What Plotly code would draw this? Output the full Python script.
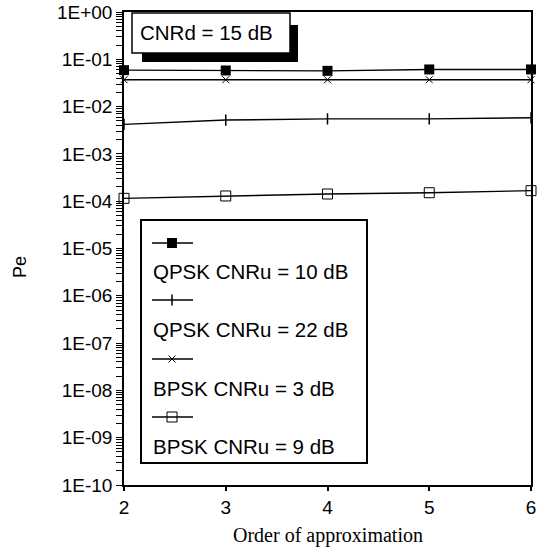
import plotly.graph_objects as go

# ---- data ----
orders = [2, 3, 4, 5, 6]
qpsk_10 = [0.059, 0.058, 0.057, 0.061, 0.061]
qpsk_22 = [0.0042, 0.0052, 0.0055, 0.0055, 0.0058]
bpsk_3 = [0.037, 0.037, 0.037, 0.037, 0.037]
bpsk_9 = [1.15e-4, 1.29e-4, 1.42e-4, 1.51e-4, 1.67e-4]

series_names = ["QPSK CNRu = 10 dB", "QPSK CNRu = 22 dB", "BPSK CNRu = 3 dB", "BPSK CNRu = 9 dB"]
series_values = [qpsk_10, qpsk_22, bpsk_3, bpsk_9]
ytick_major = [10 ** (-k) for k in range(0, 11)]
ytick_major_text = ["1E+00"] + ["1E-%02d" % k for k in range(1, 11)]
ytick_minor = [m * 10 ** (-k) for k in range(1, 11) for m in range(2, 10)]
xtick_vals = [2, 3, 4, 5, 6]

# all y ticks (major labelled, minor blank)
ytick_all = ytick_major + ytick_minor
ytick_all_text = ytick_major_text + [""] * len(ytick_minor)

# ---- styles ----
W, H = 544, 548
L, R, T, B = 124, 531, 12, 485
SANS = "Liberation Sans, Arial, sans-serif"
SERIF = "Liberation Serif, Times New Roman, serif"
markers = [
    dict(symbol="square", size=10, color="black"),
    dict(symbol="line-ns", size=8, color="black", line=dict(width=1.5, color="black")),
    dict(symbol="x-thin", size=7, color="black", line=dict(width=1, color="black")),
    dict(symbol="square-open", size=10, color="black", line=dict(width=1, color="black")),
]


def px(x):
    return (x - L) / (R - L)


def py(y):
    return (B - y) / (B - T)


fig = go.Figure()

for name, vals, mk in zip(series_names, series_values, markers):
    fig.add_trace(go.Scatter(x=orders, y=vals, name=name, mode="lines+markers",
                             line=dict(color="black", width=1.4), marker=mk,
                             showlegend=False, cliponaxis=False))

# thick stubs for the labelled decades (drawn just left of the y axis)
fig.add_trace(go.Scatter(x=[orders[0] - 4 * (orders[-1] - orders[0]) / (R - L)] * len(ytick_major),
                         y=ytick_major, mode="markers", cliponaxis=False, showlegend=False,
                         hoverinfo="skip",
                         marker=dict(symbol="line-ew", size=7, line=dict(width=4, color="black"))))

# ---- hand-drawn style legend on an inset axis (pixel units) ----
LG_L, LG_R, LG_T, LG_B = 142, 366, 221, 462
sym_rows = [243, 300, 359, 417]
txt_rows = [271, 329, 388, 446]
for name, mk, ys, yt in zip(series_names, markers, sym_rows, txt_rows):
    fig.add_trace(go.Scatter(x=[152, 193], y=[ys, ys], mode="lines", xaxis="x2", yaxis="y2",
                             line=dict(color="black", width=1.4), showlegend=False, hoverinfo="skip"))
    fig.add_trace(go.Scatter(x=[172], y=[ys], mode="markers", xaxis="x2", yaxis="y2",
                             marker=mk, showlegend=False, hoverinfo="skip"))
    fig.add_annotation(x=151, y=yt, xref="x2", yref="y2", text=name, showarrow=False,
                       xanchor="left", yanchor="middle",
                       font=dict(family=SANS, size=20.5, color="black"))

# ---- CNRd box with drop shadow ----
fig.add_shape(type="rect", xref="paper", yref="paper", x0=px(142), x1=px(298), y0=py(62), y1=py(25),
              fillcolor="black", line=dict(width=0), layer="above")
fig.add_shape(type="rect", xref="paper", yref="paper", x0=px(132), x1=px(290), y0=py(53), y1=py(13),
              fillcolor="white", line=dict(width=1.5, color="black"), layer="above")
fig.add_annotation(x=px(206), y=py(33), xref="paper", yref="paper", text="CNRd = 15 dB",
                   showarrow=False, xanchor="center", yanchor="middle",
                   font=dict(family=SANS, size=20.5, color="black"))

# ---- axis titles ----
fig.add_annotation(x=px(20), y=py(267), xref="paper", yref="paper", text="Pe", showarrow=False,
                   textangle=-90, xanchor="center", yanchor="middle",
                   font=dict(family=SANS, size=18, color="black"))
fig.add_annotation(x=px(328), y=py(535), xref="paper", yref="paper", text="Order of approximation",
                   showarrow=False, xanchor="center", yanchor="middle",
                   font=dict(family=SERIF, size=20, color="black"))

fig.update_layout(
    width=W, height=H,
    margin=dict(l=L, r=W - R, t=T, b=H - B),
    paper_bgcolor="white", plot_bgcolor="white",
    showlegend=False,
    xaxis=dict(range=[2, 6], tickvals=xtick_vals, ticks="outside", ticklen=4, tickwidth=1.5,
               tickcolor="black", showline=True, linecolor="black", linewidth=1.5, mirror=True,
               showgrid=False, zeroline=False, automargin=False,
               tickfont=dict(family=SANS, size=19, color="black")),
    yaxis=dict(type="log", range=[-10, 0], tickmode="array",
               tickvals=ytick_all, ticktext=ytick_all_text,
               ticks="outside", ticklen=6, tickwidth=1, tickcolor="black",
               showline=True, linecolor="black", linewidth=1.5, mirror=True,
               showgrid=False, zeroline=False, automargin=False,
               tickfont=dict(family=SANS, size=19, color="black")),
    xaxis2=dict(domain=[px(LG_L), px(LG_R)], range=[LG_L, LG_R], anchor="y2",
                showline=True, mirror=True, linecolor="black", linewidth=1.5, automargin=False,
                showticklabels=False, ticks="", showgrid=False, zeroline=False),
    yaxis2=dict(domain=[py(LG_B), py(LG_T)], range=[LG_B, LG_T], anchor="x2",
                showline=True, mirror=True, linecolor="black", linewidth=1.5, automargin=False,
                showticklabels=False, ticks="", showgrid=False, zeroline=False),
)

fig.write_html("out.html")
